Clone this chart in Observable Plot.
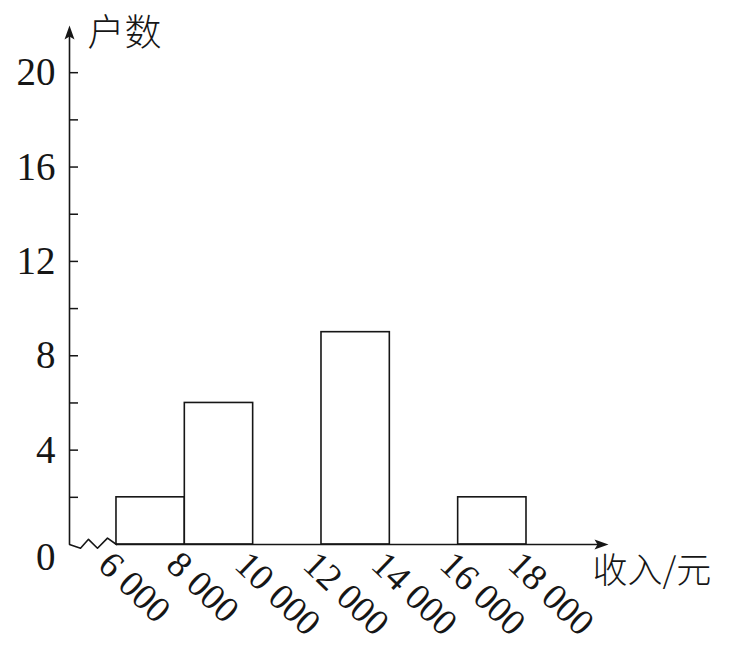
<!DOCTYPE html>
<html><head><meta charset="utf-8">
<script src="https://cdn.jsdelivr.net/npm/d3@7"></script>
<script src="https://cdn.jsdelivr.net/npm/@observablehq/plot@0.6"></script>
<style>body{margin:0;background:#fff}</style>
</head><body><div id="chart"></div>
<script>
const binStarts = [6000, 8000, 10000, 12000, 14000, 16000];
const binEnds = [8000, 10000, 12000, 14000, 16000, 18000];
const counts = [2, 6, 0, 9, 0, 2];
const xTicks = [6000, 8000, 10000, 12000, 14000, 16000, 18000];
const xTickLabels = ["6 000", "8 000", "10 000", "12 000", "14 000", "16 000", "18 000"];
const yMajor = [4, 8, 12, 16, 20];
const yMinor = [2, 4, 6, 8, 10, 12, 14, 16, 18, 20];
const yTitle = "户数";
const xTitle = "收入/元";
const originLabel = "0";
const xOrigin = 4625, xEnd = 20400, yEnd = 22;
const brkX = [4625, 4947, 5181, 5444, 5737, 6000];
const brkY = [0, -0.16, 0.22, -0.16, 0.27, 0];

const ink = "#161616";
const serif = "'Liberation Serif','Times New Roman',serif";
const cjk = "'Noto Sans CJK SC','Noto Sans CJK JP',sans-serif";
const tickLen = 9 * (xEnd - xOrigin) / (738 - 69 - 130);

const bins = binStarts.map((s, i) => ({x1: s, x2: binEnds[i], y: counts[i]})).filter(d => d.y > 0);

const arrowUp = {draw(ctx) { ctx.moveTo(0, 0); ctx.lineTo(-5, 14); ctx.lineTo(0, 11); ctx.lineTo(5, 14); ctx.closePath(); }};
const arrowRight = {draw(ctx) { ctx.moveTo(0, 0); ctx.lineTo(-14, -5); ctx.lineTo(-11, 0); ctx.lineTo(-14, 5); ctx.closePath(); }};

const chart = Plot.plot({
  width: 738,
  height: 645,
  marginLeft: 69,
  marginRight: 130,
  marginTop: 25,
  marginBottom: 101,
  x: {domain: [xOrigin, xEnd], axis: null},
  y: {domain: [0, yEnd], label: null},
  marks: [
    Plot.rectY(bins, {x1: "x1", x2: "x2", y: "y", fill: "white", stroke: ink, strokeWidth: 1.6}),
    Plot.ruleX([xOrigin], {y1: 0, y2: yEnd - 0.3, stroke: ink, strokeWidth: 1.6}),
    Plot.ruleY([0], {x1: 6000, x2: xEnd - 200, stroke: ink, strokeWidth: 1.6}),
    Plot.line(brkX.map((x, i) => ({x, y: brkY[i]})), {x: "x", y: "y", stroke: ink, strokeWidth: 1.6, curve: "linear"}),
    Plot.ruleY(yMinor, {x1: xOrigin, x2: xOrigin + tickLen, stroke: ink, strokeWidth: 1.5}),
    Plot.dot([{x: xOrigin, y: yEnd}], {x: "x", y: "y", symbol: arrowUp, fill: ink, stroke: null}),
    Plot.dot([{x: xEnd, y: 0}], {x: "x", y: "y", symbol: arrowRight, fill: ink, stroke: null}),
    Plot.axisY(yMajor, {label: null, tickSize: 0, tickPadding: 14, fontSize: 39, fontFamily: serif, fill: ink}),
    Plot.text([originLabel], {x: xOrigin, y: 0, text: d => d, textAnchor: "end", dx: -14, dy: 13, fontSize: 39, fontFamily: serif, fill: ink}),
    Plot.text(xTicks, {x: d => d, y: 0, text: (d, i) => xTickLabels[i], rotate: 44, textAnchor: "start", lineAnchor: "middle", dx: -12, dy: 14, fontSize: 37, fontFamily: serif, fill: ink}),
    Plot.text([yTitle], {x: xOrigin, y: yEnd, text: d => d, textAnchor: "start", dx: 18, dy: 9, fontSize: 37, fontFamily: cjk, fontWeight: 300, fill: ink}),
    Plot.text([xTitle], {x: xEnd, y: 0, text: d => d, textAnchor: "start", dx: -16, dy: 27, fontSize: 35, fontFamily: cjk, fontWeight: 300, fill: ink})
  ]
});
document.getElementById("chart").appendChild(chart);
</script>
</body></html>
